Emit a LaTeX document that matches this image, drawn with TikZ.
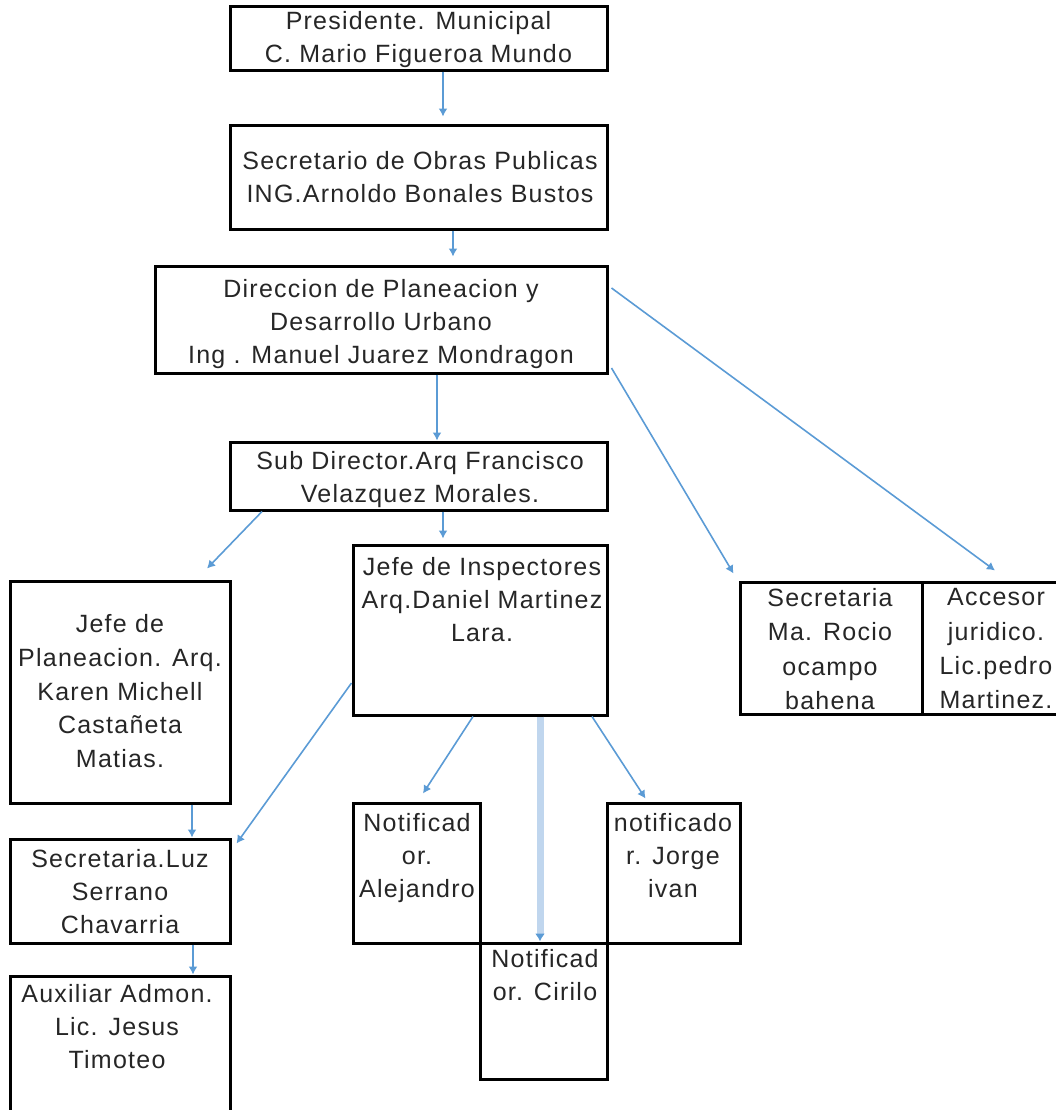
\documentclass[tikz,border=0pt]{standalone}
\usepackage{fontspec}
\setmainfont{Liberation Sans}[LetterSpace=5]
\usetikzlibrary{arrows.meta,fit}
\definecolor{linkblue}{HTML}{5B9BD5}
\definecolor{paleblue}{HTML}{C0D6EE}
\definecolor{inkgray}{HTML}{262626}
\tikzset{
	box/.style={draw,line width=1.5pt,inner sep=0pt},
	txt/.style={anchor=north,align=center,inner sep=0pt,text=inkgray,font=\fontsize{12.5}{16.5}\selectfont},
	link/.style={draw=linkblue,line width=0.8pt,-{Latex[length=4pt,width=4.5pt]}},
}
\begin{document}
\begin{tikzpicture}[x=0.5pt,y=-0.5pt]
	\useasboundingbox (0,0) rectangle (1056,1110);
	\clip (0,0) rectangle (1056,1110);

	\node [box,fit={(230,6) (607,70)}] (pres) {};
	\node [box,fit={(230,125) (607,229)}] (secop) {};
	\node [box,fit={(155,266) (607,373)}] (dir) {};
	\node [box,fit={(230,442) (607,510)}] (sub) {};
	\node [box,fit={(10,581) (230,803)}] (jplan) {};
	\node [box,fit={(10,839) (230,943)}] (secluz) {};
	\node [box,fit={(10,976) (230,1130)}] (aux) {};
	\node [box,fit={(353,545) (607,715)}] (jins) {};
	\node [box,fit={(353,803) (480,943)}] (notA) {};
	\node [box,fit={(480,943) (607,1079)}] (notC) {};
	\node [box,fit={(607,803) (740,943)}] (notJ) {};
	\node [box,fit={(740,582) (922,714)}] (secR) {};
	\node [box,fit={(922,582) (1075,714)}] (acc) {};

	\node [txt] (pres text) at (418.5,11) {Presidente. Municipal\\C. Mario Figueroa Mundo};
	\node [txt] (secop text) at (420,151) {Secretario de Obras Publicas\\ING.Arnoldo Bonales Bustos};
	\node [txt] (dir text) at (381,279) {Direccion de Planeacion y\\Desarrollo Urbano\\Ing . Manuel Juarez Mondragon};
	\node [txt] (sub text) at (420,451) {Sub Director.Arq Francisco\\Velazquez Morales.};
	\node [txt,font=\fontsize{12.5}{16.9}\selectfont] (jplan text) at (120,614) {Jefe de\\Planeacion. Arq.\\Karen Michell\\Castañeta\\Matias.};
	\node [txt] (secluz text) at (120,849) {Secretaria.Luz\\Serrano\\Chavarria};
	\node [txt] (aux text) at (117,984) {Auxiliar Admon.\\Lic. Jesus\\Timoteo};
	\node [txt] (jins text) at (482,557) {Jefe de Inspectores\\Arq.Daniel Martinez\\Lara.};
	\node [txt] (notA text) at (417,813) {Notificad\\or.\\Alejandro};
	\node [txt] (notC text) at (545,949) {Notificad\\or. Cirilo};
	\node [txt] (notJ text) at (673,813) {notificado\\r. Jorge\\ivan};
	\node [txt,font=\fontsize{12.5}{17.2}\selectfont] (secR text) at (830,588) {Secretaria\\Ma. Rocio\\ocampo\\bahena};
	\node [txt,font=\fontsize{12.5}{17.2}\selectfont] (acc text) at (996,588) {Accesor\\juridico.\\Lic.pedro\\Martinez.};

	\draw [link,shorten >=3.5pt] ([xshift=12.25pt]pres.south) -- ([xshift=12.25pt]secop.north);
	\draw [link,shorten >=4pt] ([xshift=17.25pt]secop.south) -- ([xshift=36pt]dir.north);
	\draw [link,line width=1.3pt] ([xshift=28pt]dir.south) -- ([xshift=9.25pt]sub.north);
	\draw [link] ([xshift=1.5pt,yshift=-24.25pt]dir.east) -- ([xshift=-2.5pt,yshift=3.5pt]secR.north west);
	\draw [link] ([xshift=1.5pt,yshift=15.75pt]dir.east) -- ([xshift=-1.75pt,yshift=5pt]acc.north);

	\draw [link] ([xshift=-78.25pt]sub.south) -- ([xshift=43.5pt,yshift=5.5pt]jplan.north);
	\draw [link,shorten >=2.5pt] ([xshift=12.25pt]sub.south) -- ([xshift=-18.5pt]jins.north);

	\draw [link] ([yshift=-26.5pt]jins.west) -- ([xshift=2.5pt,yshift=-3pt]secluz.north east);
	\draw [link] ([xshift=36pt]jplan.south) -- ([xshift=36pt]secluz.north);
	\draw [link] ([xshift=36.5pt]secluz.south) -- ([xshift=36.5pt]aux.north);

	\draw [link] ([xshift=-3.5pt]jins.south) -- ([xshift=3.25pt,yshift=4pt]notA.north);
	\draw [link,draw=paleblue,line width=3.5pt,-{Latex[length=4pt,width=5pt,color=linkblue]}] ([xshift=30pt]jins.south) -- ([xshift=-1.75pt]notC.north);
	\draw [link] ([xshift=56pt]jins.south) -- ([xshift=-14pt,yshift=1.5pt]notJ.north);
\end{tikzpicture}
\end{document}
